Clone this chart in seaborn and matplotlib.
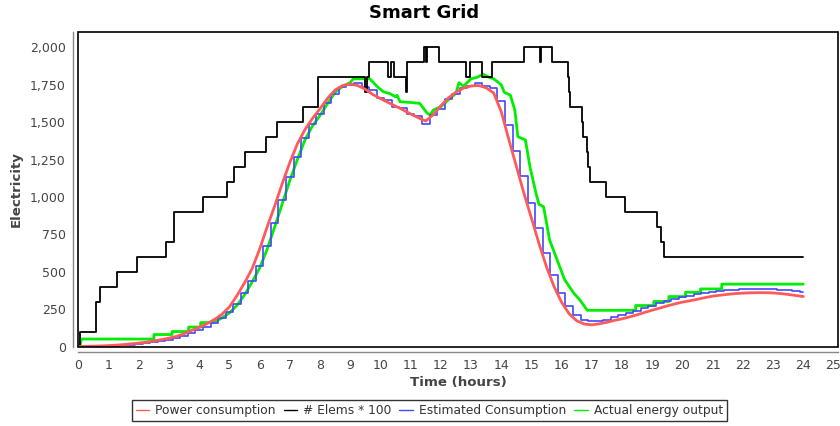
import numpy as np
import seaborn as sns
import matplotlib.pyplot as plt
from matplotlib.lines import Line2D
from matplotlib.patches import Rectangle
from matplotlib.ticker import FuncFormatter, MultipleLocator

sns.set_style('white')
plt.rcParams['font.family'] = ['DejaVu Sans']

# quarter-hour samples for the two smooth-ish series
hours = np.arange(0, 24.01, 0.25)
power = [0, 1, 2, 4,   6, 9, 13, 18,   23, 29, 37, 46,   56, 68, 85, 108,
         128, 152, 180, 215,   265, 340, 425, 520,   650, 800, 940, 1090,
         1230, 1355, 1450, 1525,   1590, 1660, 1715, 1745,   1755, 1745, 1720, 1685,
         1658, 1632, 1607, 1582,   1555, 1530, 1508, 1550,   1610, 1662, 1700, 1728,
         1742, 1745, 1730, 1695,   1570, 1385, 1205, 1025,   858, 688, 532, 400,
         295, 218, 172, 150,   145, 152, 162, 175,   185, 198, 212, 228,
         243, 257, 272, 285,   297, 306, 316, 327,   337, 343, 349, 354,
         357, 359, 360, 360,   358, 354, 348, 341,   334]
estimated = [0, 0, 1, 2,   4, 6, 9, 13,   17, 22, 28, 36,   45, 57, 72, 90,
             110, 132, 158, 190,   228, 282, 355, 440,   540, 675, 825, 980,
             1135, 1270, 1395, 1488,   1552, 1628, 1688, 1738,   1748, 1765, 1732, 1712,
             1660, 1650, 1602, 1596,   1556, 1538, 1488, 1548,   1585, 1655, 1690, 1728,
             1740, 1760, 1745, 1728,   1640, 1480, 1310, 1140,   960, 790, 625, 480,
             360, 268, 212, 180,   170, 172, 180, 194,   208, 224, 240, 257,
             273, 289, 304, 318,   330, 341, 351, 359,   366, 372, 377, 381,
             384, 386, 386, 386,   384, 381, 377, 371,   365]

# number of elements (hundreds), changes at these times
elems_t = [0, 0.05, 0.57, 0.72, 1.29, 1.95, 2.9, 3.15, 4.11, 4.92, 5.16, 5.52,
           6.21, 6.59, 7.45, 7.92, 9.49, 9.55, 9.62, 10.26, 10.36, 10.45, 10.85,
           10.88, 11.44, 11.5, 11.53, 11.95, 12.82, 12.97, 13.35, 13.69, 14.76,
           15.28, 15.33, 15.67, 16.22, 16.25, 16.27, 16.66, 16.72, 16.85, 16.88,
           16.93, 17.47, 18.1, 19.15, 19.29, 19.4, 24.0]
elems = [0, 1, 3, 4, 5, 6, 7, 9, 10, 11, 12, 13,
         14, 15, 16, 18, 17, 18, 19, 18, 19, 18, 17,
         19, 20, 19, 20, 19, 18, 19, 18, 19, 20,
         19, 20, 19, 18, 17, 16, 15, 14, 13, 12,
         11, 10, 9, 8, 7, 6, 6]

output_t = [0.05, 0.1, 2.5, 2.5, 3.1, 3.1, 3.65, 3.65, 4.05, 4.05, 4.45, 4.6,
            4.75, 5.0, 5.25, 5.5, 5.75, 6.0, 6.25, 6.5, 6.75, 7.0, 7.25, 7.5,
            7.75, 8.0, 8.25, 8.5, 8.75, 9.0, 9.1, 9.65, 9.9, 10.1, 10.3, 10.5,
            10.55, 10.65, 11.1, 11.3, 11.55, 11.65, 11.75, 12.0, 12.3, 12.5, 12.6,
            12.75, 13.0, 13.2, 13.4, 13.6, 13.75, 14.0, 14.1, 14.3, 14.45, 14.55,
            14.8, 14.95, 15.15, 15.25, 15.4, 15.6, 15.85, 16.1, 16.4, 16.6, 16.85,
            18.45, 18.45, 19.05, 19.05, 19.55, 19.55, 20.1, 20.1, 20.6, 20.6,
            21.3, 21.3, 24.0]
output = [0, 50, 50, 80, 80, 100, 100, 130, 130, 160, 160, 175,
          190, 225, 275, 345, 430, 525, 650, 800, 955, 1110, 1250, 1380,
          1475, 1545, 1625, 1700, 1740, 1765, 1790, 1790, 1737, 1703, 1692, 1670,
          1680, 1637, 1630, 1626, 1560, 1548, 1581, 1603, 1659, 1692, 1764,
          1740, 1790, 1800, 1821, 1800, 1790, 1750, 1700, 1681, 1581, 1403,
          1381, 1202, 1025, 950, 935, 713, 579, 446, 357, 312, 242,
          242, 274, 274, 301, 301, 334, 334, 363, 363, 385,
          385, 417, 417]

RED = '#ff5a5a'
BLUE = '#4646ff'
GREEN = '#00ee00'

fig = plt.figure(figsize=(8.4, 4.26), dpi=100)
ax = fig.add_axes([0.0933, 0.1866, 0.9040, 0.7390])

sns.lineplot(x=output_t, y=output, ax=ax, color=GREEN, lw=2, sort=False,
             estimator=None, zorder=2)
sns.lineplot(x=hours, y=estimated, ax=ax, color=BLUE, lw=1.2, sort=False,
             estimator=None, drawstyle='steps-mid', zorder=3)
sns.lineplot(x=elems_t, y=np.array(elems) * 100, ax=ax, color='black', lw=1.3,
             sort=False, estimator=None, drawstyle='steps-post', zorder=4)
sns.lineplot(x=hours, y=power, ax=ax, color=RED, lw=2, sort=False,
             estimator=None, zorder=5)

ax.set_xlim(0, 25.14)
ax.set_ylim(0, 2105)
ax.xaxis.set_major_locator(MultipleLocator(1))
ax.yaxis.set_major_locator(MultipleLocator(250))
ax.yaxis.set_major_formatter(FuncFormatter(lambda v, p: f'{v:,.0f}'))

for side in ['top', 'right']:
    ax.spines[side].set_visible(False)
for side in ['left', 'bottom']:
    ax.spines[side].set_position(('outward', 4))
    ax.spines[side].set_color('#888888')
    ax.spines[side].set_linewidth(1)
ax.add_patch(Rectangle((0, 0), 1, 1, transform=ax.transAxes, fill=False,
                       ec='black', lw=1.2, clip_on=False, zorder=10))

ax.tick_params(axis='both', direction='out', length=3, width=0.8, color='#888888',
               labelsize=9, labelcolor='#444444', pad=2)
ax.set_xlabel('Time (hours)', fontsize=9.6, fontweight='bold', color='#444444', labelpad=3)
ax.set_ylabel('Electricity', fontsize=9.6, fontweight='bold', color='#444444', labelpad=5)

fig.text(0.505, 0.958, 'Smart Grid', ha='center', va='baseline',
         fontsize=13, fontweight='bold', color='black')

handles = [Line2D([], [], color=RED, lw=1),
           Line2D([], [], color='black', lw=1),
           Line2D([], [], color=BLUE, lw=1),
           Line2D([], [], color=GREEN, lw=1)]
labels = ['Power consumption', '# Elems * 100', 'Estimated Consumption',
          'Actual energy output']
leg = fig.legend(handles, labels, loc='center', bbox_to_anchor=(0.511, 0.036),
                 ncol=4, fontsize=8.8, frameon=True, fancybox=False, handlelength=1.1,
                 handletextpad=0.5, columnspacing=0.65, borderpad=0.3,
                 borderaxespad=0)
leg.get_frame().set_edgecolor('black')
leg.get_frame().set_linewidth(1)
for t in leg.get_texts():
    t.set_color('#333333')

fig.savefig('out.png', dpi=100)
